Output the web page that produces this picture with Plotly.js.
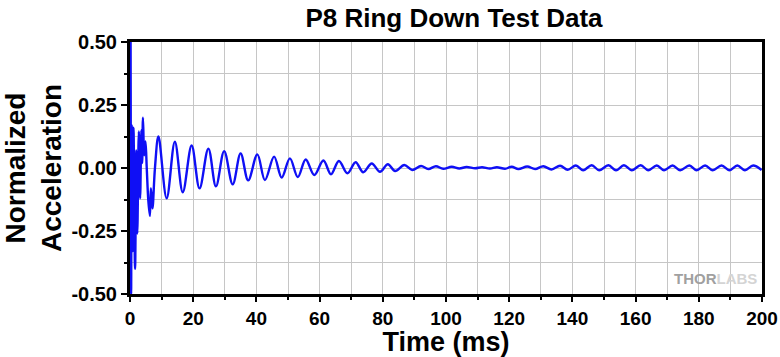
<!DOCTYPE html>
<html>
<head>
<meta charset="utf-8">
<script src="https://cdn.plot.ly/plotly-3.0.1.min.js"></script>
<style>html,body{margin:0;padding:0;background:#fff;}#chart{width:780px;height:357px;}</style>
</head>
<body>
<div id="chart"></div>
<script>
// Time (ms) and normalized acceleration, read at the turning points of the trace
const timeMs = [
  0, 0.15, 0.35, 0.55, 0.85, 1.1, 1.6, 2.0, 2.3, 2.8, 3.2, 3.6, 3.85, 4.1, 4.5, 4.9, 5.3, 5.8, 6.3, 6.6, 7.1, 7.9, 9.0,
  11.6, 14.2, 16.7, 19.5, 22.0, 24.8, 27.2, 29.8, 32.5, 35.0, 37.4, 40.3, 42.7, 45.6, 48.0, 50.6, 53.1, 55.6, 58.3,
  61.2, 63.6, 66.1, 68.8, 71.4, 73.8, 76.5, 79.1, 81.6, 83.9, 86.8, 89.3, 92.1, 94.4, 96.8, 99.1, 101.8, 104.2,
  106.5, 109.2, 111.4, 113.9, 116.1, 118.7, 120.8, 122.9, 125.7, 128.2, 130.8, 133.4, 136.1, 138.5, 141.1, 143.4,
  146.1, 148.5, 151.4, 153.8, 156.3, 158.8, 161.6, 164.0, 166.7, 169.0, 171.7, 174.1, 177.0, 179.3, 182.0, 184.4,
  187.2, 189.7, 192.2, 194.6, 197.2, 199.9
];
const acceleration = [
  0, 0.6, -0.5, 0.17, -0.33, 0.16, -0.40, 0.07, -0.26, 0.145, -0.12, 0.15, 0.02, 0.20, 0.05, 0.105, 0.0, -0.13, -0.19, -0.08, -0.16, 0.0, 0.125,
  -0.12, 0.104, -0.096, 0.089, -0.081, 0.077, -0.073, 0.067, -0.065, 0.058, -0.049, 0.054, -0.048, 0.045, -0.038, 0.038, -0.036, 0.034, -0.028,
  0.030, -0.025, 0.028, -0.021, 0.023, -0.017, 0.018, -0.015, 0.015, -0.012, 0.012, -0.008, 0.008, -0.004, 0.007, -0.003, 0.005, -0.002,
  0.004, -0.001, 0.003, -0.002, 0.003, -0.003, 0.005, -0.004, 0.006, -0.004, 0.007, -0.006, 0.009, -0.007, 0.010, -0.009,
  0.011, -0.009, 0.011, -0.009, 0.011, -0.009, 0.011, -0.009, 0.010, -0.009, 0.010, -0.009, 0.010, -0.009, 0.010, -0.009,
  0.010, -0.009, 0.010, -0.009, 0.010, -0.008
];
const xTickVals = [0, 20, 40, 60, 80, 100, 120, 140, 160, 180, 200];
const xTickText = ["0", "20", "40", "60", "80", "100", "120", "140", "160", "180", "200"];
const yTickVals = [0.5, 0.25, 0, -0.25, -0.5];
const yTickText = ["0.50", "0.25", "0.00", "-0.25", "-0.50"];

const FONT = "Arial, 'Liberation Sans', sans-serif";

const trace = {
  x: timeMs, y: acceleration, type: 'scatter', mode: 'lines',
  line: {color: '#0f0ff5', width: 2.4, shape: 'spline', smoothing: 1},
  hoverinfo: 'skip'
};

const gridColor = '#c6c6c6';
const layout = {
  width: 780, height: 357,
  margin: {l: 130, r: 18, t: 42, b: 63},
  paper_bgcolor: '#fff', plot_bgcolor: '#fff',
  showlegend: false,
  title: {text: '<b>P8 Ring Down Test Data</b>', x: 0.582, xanchor: 'center', y: 0.95, yanchor: 'middle',
          font: {family: FONT, size: 26, color: '#000'}},
  xaxis: {
    range: [0, 200], tickmode: 'array', tickvals: xTickVals, ticktext: xTickText,
    ticks: 'outside', ticklen: 5, tickwidth: 2, tickcolor: '#000',
    showline: true, linewidth: 3, linecolor: '#000', mirror: true,
    showgrid: true, gridcolor: gridColor, gridwidth: 1, zeroline: false,
    minor: {dtick: 10, ticks: 'outside', ticklen: 3, tickwidth: 2, tickcolor: '#000', showgrid: true, gridcolor: gridColor, gridwidth: 1},
    tickfont: {family: FONT, size: 19, color: '#000', weight: 'bold'},
    title: {text: '<b>Time (ms)</b>', font: {family: FONT, size: 27, color: '#000'}, standoff: 9}
  },
  yaxis: {
    range: [-0.5, 0.5], tickmode: 'array', tickvals: yTickVals, ticktext: yTickText,
    ticks: 'outside', ticklen: 6, tickwidth: 2, tickcolor: '#000',
    showline: true, linewidth: 3, linecolor: '#000', mirror: true,
    showgrid: true, gridcolor: gridColor, gridwidth: 1, zeroline: false,
    minor: {dtick: 0.125, ticks: 'outside', ticklen: 3, tickwidth: 2, tickcolor: '#000', showgrid: true, gridcolor: gridColor, gridwidth: 1},
    tickfont: {family: FONT, size: 20, color: '#000', weight: 'bold'},
    title: {text: '<b>Normalized<br>Acceleration</b>', font: {family: FONT, size: 28, color: '#000'}, standoff: 8}
  },
  annotations: [{
    xref: 'paper', yref: 'paper', x: 0.995, y: 0.06, xanchor: 'right', yanchor: 'middle', showarrow: false,
    text: "<b>THOR</b><span style='color:#d4d4d4'><b>LABS</b></span>",
    font: {family: FONT, size: 15, color: '#a0a0a0'}
  }]
};

Plotly.newPlot('chart', [trace], layout, {staticPlot: true, displayModeBar: false});
</script>
</body>
</html>
